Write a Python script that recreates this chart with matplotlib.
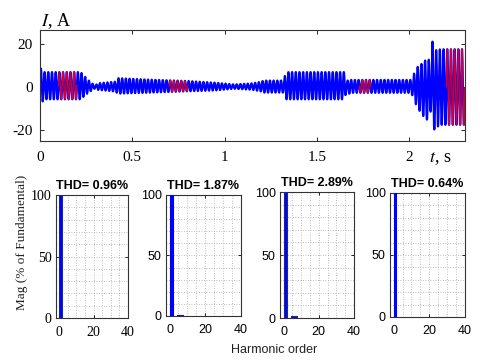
import numpy as np
import matplotlib.pyplot as plt

plt.rcParams["axes.unicode_minus"] = False

# --- envelope of the phase current ---
f_grid = 50.0  # Hz
env_t = [0.0, 0.005, 0.02, 0.22, 0.26, 0.30, 0.31, 0.41, 0.42, 0.60, 0.80,
         0.95, 1.05, 1.15, 1.20, 1.21, 1.32, 1.33, 1.65, 1.66, 1.67, 1.68,
         2.01, 2.04, 2.07, 2.10, 2.12, 2.125, 2.14, 2.17, 2.30]
env_a = [6.0, 8.5, 6.3, 6.3, 3.0, 0.5, 1.5, 2.3, 3.6, 3.0, 2.4,
         1.8, 1.0, 1.5, 2.3, 2.8, 2.8, 6.3, 6.3, 1.5, 3.8, 3.0,
         3.0, 9.0, 12.0, 14.5, 10.0, 21.0, 18.0, 17.5, 17.5]
env_dc = [0.0, 0.0, 0.6, 0.6, 0.3, 0.0, 0.2, 0.2, 0.5, 0.4, 0.4,
          0.2, 0.2, 0.2, 0.2, 0.2, 0.2, 0.6, 0.6, 0.2, 0.3, 0.3,
          0.3, 0.0, -1.0, -1.0, 0.0, 0.0, -1.0, 0.0, 0.0]

# FFT analysis windows (red)
win_start = [0.10, 0.70, 1.73, 2.20]
win_end = [0.20, 0.80, 1.79, 2.30]

# --- harmonic spectra ---
thd = ["0.96", "1.87", "2.89", "0.64"]
harm_order = [[1], [1, 5, 7], [1, 5, 7], [1]]
harm_mag = [[100], [100, 1.2, 1.0], [100, 1.6, 1.6], [100]]
bar_w = [1.8, 1.4, 1.8, 1.0]
bar_edge = ["#1a2a8a", "blue", "#1a2a8a", "blue"]

t = np.arange(0, 2.3, 1e-4)
amp = np.interp(t, env_t, env_a)
dc = np.interp(t, env_t, env_dc)
i_a = dc + amp * np.sin(2 * np.pi * f_grid * t)

fig = plt.figure(figsize=(4.8, 3.61), dpi=100)

ax = fig.add_axes([0.0833, 0.6094, 0.885, 0.3075])
ax.plot(t, i_a, color="blue", lw=1.6)
for a, b in zip(win_start, win_end):
    m = (t >= a) & (t <= b)
    ax.plot(t[m], i_a[m], color="red", lw=0.9, alpha=0.85)
ax.set_xlim(0, 2.3)
ax.set_ylim(-25, 26.4)
ax.set_xticks([0, 0.5, 1, 1.5, 2])
ax.set_xticklabels(["0", "0.5", "1", "1.5", "2"])
ax.set_yticks([-20, 0, 20])
ax.tick_params(direction="in", top=True, right=True, labelsize=11, length=3,
               width=0.6, pad=7)
ax.tick_params(axis="y", pad=5)
for lab in ax.get_xticklabels() + ax.get_yticklabels():
    lab.set_family("Liberation Serif")
for s in ax.spines.values():
    s.set_color("#333333")
    s.set_linewidth(0.8)

fig.text(0.085, 0.942, "$I$, A", family="Liberation Serif", fontsize=13,
         ha="left", va="center", math_fontfamily="stix")
fig.text(0.893, 0.562, "$t$, s", family="Liberation Serif", fontsize=13,
         ha="left", va="center", math_fontfamily="stix")

# --- spectra ---
boxes = [[0.116, 0.1191, 0.1506, 0.3407],
         [0.3458, 0.1247, 0.1563, 0.3352],
         [0.5833, 0.1191, 0.1542, 0.3490],
         [0.8125, 0.1219, 0.1563, 0.3435]]
for k, box in enumerate(boxes):
    bx = fig.add_axes(box)
    bx.bar(harm_order[k], harm_mag[k], width=bar_w[k], color="blue",
           edgecolor=bar_edge[k], linewidth=0.8, zorder=3)
    bx.set_xlim(-2, 40)
    bx.set_ylim(0, 100)
    bx.set_xticks([0, 20, 40])
    bx.set_yticks([0, 50, 100])
    bx.set_xticks(np.arange(0, 41, 5), minor=True)
    bx.set_yticks(np.arange(0, 101, 10), minor=True)
    bx.grid(True, which="both", color="#aaaaaa", ls=(0, (1, 2)), lw=0.6)
    bx.tick_params(which="both", direction="in", top=True, right=True,
                   labelsize=9, length=2, width=0.6)
    bx.tick_params(which="minor", length=0)
    bx.tick_params(axis="x", pad=6)
    bx.tick_params(axis="y", pad=3)
    if k == 0:
        for lab in bx.get_xticklabels() + bx.get_yticklabels():
            lab.set_family("Liberation Serif")
            lab.set_fontsize(10)
    else:
        for lab in bx.get_xticklabels() + bx.get_yticklabels():
            lab.set_family("Liberation Sans")
    for s in bx.spines.values():
        s.set_color("#333333")
        s.set_linewidth(0.8)
    bx.set_title("THD= " + thd[k] + "%", family="Liberation Sans",
                 fontweight="bold", fontsize=9, pad=4)

fig.text(22 / 480, 1 - 242 / 361, "Mag (% of Fundamental)",
         family="Liberation Serif", fontsize=9.5, rotation=90,
         ha="center", va="center", color="#222222")
fig.text(274 / 480, 1 - 350 / 361, "Harmonic order",
         family="Liberation Sans", fontsize=9, ha="center", va="center",
         color="#222222")

fig.savefig("out.png", dpi=100)
